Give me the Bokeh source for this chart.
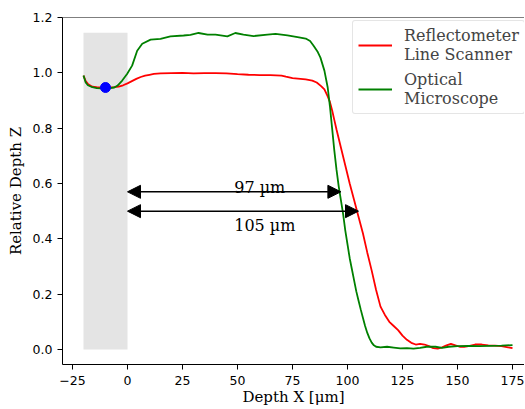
from bokeh.plotting import figure
from bokeh.models import (Range1d, FixedTicker, NumeralTickFormatter, Legend, LegendItem,
                          Arrow, NormalHead, Span, ColumnDataSource)
from bokeh.core.properties import value
from bokeh.embed import file_html
from bokeh.resources import INLINE

# ---- data ----
red_x = [-20, -19, -18, -16, -14, -12, -10, -8, -6, -4, -2, 0, 2, 4, 6, 8, 10, 12, 15, 20, 25, 30,
         35, 40, 45, 50, 55, 60, 65, 70, 72, 75, 78.6, 81, 84, 86, 88, 89.5, 91, 92, 93, 94, 95, 97,
         99, 101, 103, 105, 107, 109, 111, 113, 115, 117, 119, 121, 123, 125, 127, 129, 131, 133,
         135, 137, 139, 141, 143, 145, 147, 149, 151, 153, 155, 158, 161, 164, 167, 170, 173, 175]
red_y = [0.99, 0.97, 0.96, 0.95, 0.948, 0.947, 0.947, 0.947, 0.948, 0.95, 0.955, 0.962, 0.97,
         0.978, 0.985, 0.99, 0.993, 0.996, 0.998, 0.999, 1.0, 0.998, 0.999, 0.999, 0.998, 0.995,
         0.993, 0.992, 0.992, 0.99, 0.986, 0.981, 0.978, 0.976, 0.972, 0.965, 0.952, 0.94, 0.915,
         0.895, 0.865, 0.83, 0.795, 0.73, 0.665, 0.6, 0.54, 0.48, 0.42, 0.35, 0.285, 0.215, 0.155,
         0.125, 0.1, 0.085, 0.07, 0.05, 0.035, 0.024, 0.018, 0.02, 0.018, 0.012, 0.005, 0.003,
         0.008, 0.015, 0.02, 0.015, 0.01, 0.01, 0.012, 0.018, 0.018, 0.015, 0.014, 0.012, 0.008,
         0.005]

green_x = [-20, -19, -18, -16, -14, -12, -10, -8, -6, -4.5, -2.4, -0.2, 2.1, 4.4, 6.7, 10.5, 15,
           19.5, 25.5, 28.6, 32.3, 36.4, 40, 45.4, 49, 52.7, 57.3, 63.6, 67.3, 72.7, 77.3, 81,
           83, 84.5, 86.5, 87.7, 89.5, 91, 92, 93, 94, 95, 96, 97, 98, 99, 100, 101, 102, 103,
           104, 105, 106, 107, 108, 109, 110, 111, 112, 113, 115, 118, 121, 124, 127, 130, 133,
           136, 140, 143, 146, 150, 155, 160, 165, 170, 175]
green_y = [0.99, 0.965, 0.955, 0.948, 0.945, 0.944, 0.944, 0.945, 0.947, 0.954, 0.972, 0.996,
           1.026, 1.08, 1.105, 1.12, 1.123, 1.132, 1.135, 1.137, 1.144, 1.138, 1.138, 1.132,
           1.144, 1.138, 1.133, 1.138, 1.141, 1.135, 1.129, 1.124, 1.115, 1.099, 1.075, 1.055,
           1.008, 0.947, 0.88, 0.8, 0.72, 0.65, 0.59, 0.54, 0.49, 0.43, 0.38, 0.33, 0.29, 0.25,
           0.21, 0.177, 0.145, 0.115, 0.085, 0.06, 0.04, 0.025, 0.015, 0.01, 0.008, 0.01, 0.007,
           0.004, 0.005, 0.003, 0.006, 0.01, 0.01, 0.006, 0.01, 0.012, 0.013, 0.012, 0.013,
           0.014, 0.016]

span_x = [-20, 0]
span_top = 1.145
marker_x = [-10]
marker_y = [0.947]

arrow_x_start = [0, 0]
arrow_x_end = [97, 105]
arrow_y = [0.57, 0.5]
arrow_labels = ["97 µm", "105 µm"]
arrow_label_x = [48.5, 48.5]
arrow_label_y = [0.587, 0.448]

x_ticks = [-25, 0, 25, 50, 75, 100, 125, 150, 175]
y_ticks = [0.0, 0.2, 0.4, 0.6, 0.8, 1.0, 1.2]

series_names = ["Reflectometer\nLine Scanner", "Optical\nMicroscope"]
x_title = "Depth X [μm]"
y_title = "Relative Depth Z"

# ---- figure ----
p = figure(width=524, height=408, output_backend="svg", toolbar_location=None,
           x_range=Range1d(-29.545, 180.45), y_range=Range1d(-0.0542, 1.2),
           min_border_left=62, min_border_right=0, min_border_top=17, min_border_bottom=44)
p.outline_line_color = None
p.grid.visible = False
p.background_fill_color = "white"

SERIF = value("DejaVu Serif")

for ax in (p.xaxis[0], p.yaxis[0]):
    ax.axis_line_color = "black"
    ax.axis_line_width = 1
    ax.major_tick_line_color = "black"
    ax.major_tick_out = 5
    ax.major_tick_in = 0
    ax.minor_tick_line_color = None
    ax.major_label_text_font = "DejaVu Sans"
    ax.major_label_text_font_size = "12.5px"
    ax.major_label_text_color = "black"
    ax.axis_label_text_font = "DejaVu Serif"
    ax.axis_label_text_font_size = "15px"
    ax.axis_label_text_font_style = "normal"
    ax.axis_label_text_color = "black"

p.xaxis[0].ticker = FixedTicker(ticks=x_ticks)
p.yaxis[0].ticker = FixedTicker(ticks=y_ticks)
p.yaxis[0].formatter = NumeralTickFormatter(format="0.0")
p.xaxis[0].axis_label = x_title
p.yaxis[0].axis_label = y_title
p.xaxis[0].major_label_standoff = 6
p.xaxis[0].axis_label_standoff = 0
p.yaxis[0].major_label_standoff = 5
p.yaxis[0].axis_label_standoff = 5

# top spine
p.add_layout(Span(location=1.2, dimension="width", line_color="black", line_width=1))

# gray region
p.quad(left=[span_x[0]], right=[span_x[1]], bottom=[0], top=[span_top],
       fill_color="#e4e4e4", line_color=None)

r_red = p.line(red_x, red_y, line_color="red", line_width=1.8)
r_green = p.line(green_x, green_y, line_color="green", line_width=1.8)
p.scatter(marker_x, marker_y, size=10, color="blue")

for xs, xe, y in zip(arrow_x_start, arrow_x_end, arrow_y):
    p.add_layout(Arrow(x_start=xs, y_start=y, x_end=xe, y_end=y, line_color="black", line_width=1.5,
                       start=NormalHead(size=13, fill_color="black", line_color="black"),
                       end=NormalHead(size=13, fill_color="black", line_color="black")))

src = ColumnDataSource(dict(x=arrow_label_x, y=arrow_label_y, t=arrow_labels))
p.text(x="x", y="y", text="t", source=src, text_font=SERIF, text_font_size="16px",
       text_align="left", text_baseline="alphabetic", text_color="black")

legend = Legend(items=[LegendItem(label=series_names[0], renderers=[r_red]),
                       LegendItem(label=series_names[1], renderers=[r_green])],
                location=(290, 250), margin=0, padding=5, spacing=6,
                glyph_width=34, label_standoff=12,
                label_text_font="DejaVu Serif", label_text_font_size="16px",
                label_text_line_height=1.1,
                border_line_color="#cccccc", border_line_width=1,
                background_fill_color="white", background_fill_alpha=0.8)
try:
    legend.border_radius = 3
except Exception:
    pass
p.add_layout(legend)

open("out.html", "w").write(file_html(p, INLINE))
